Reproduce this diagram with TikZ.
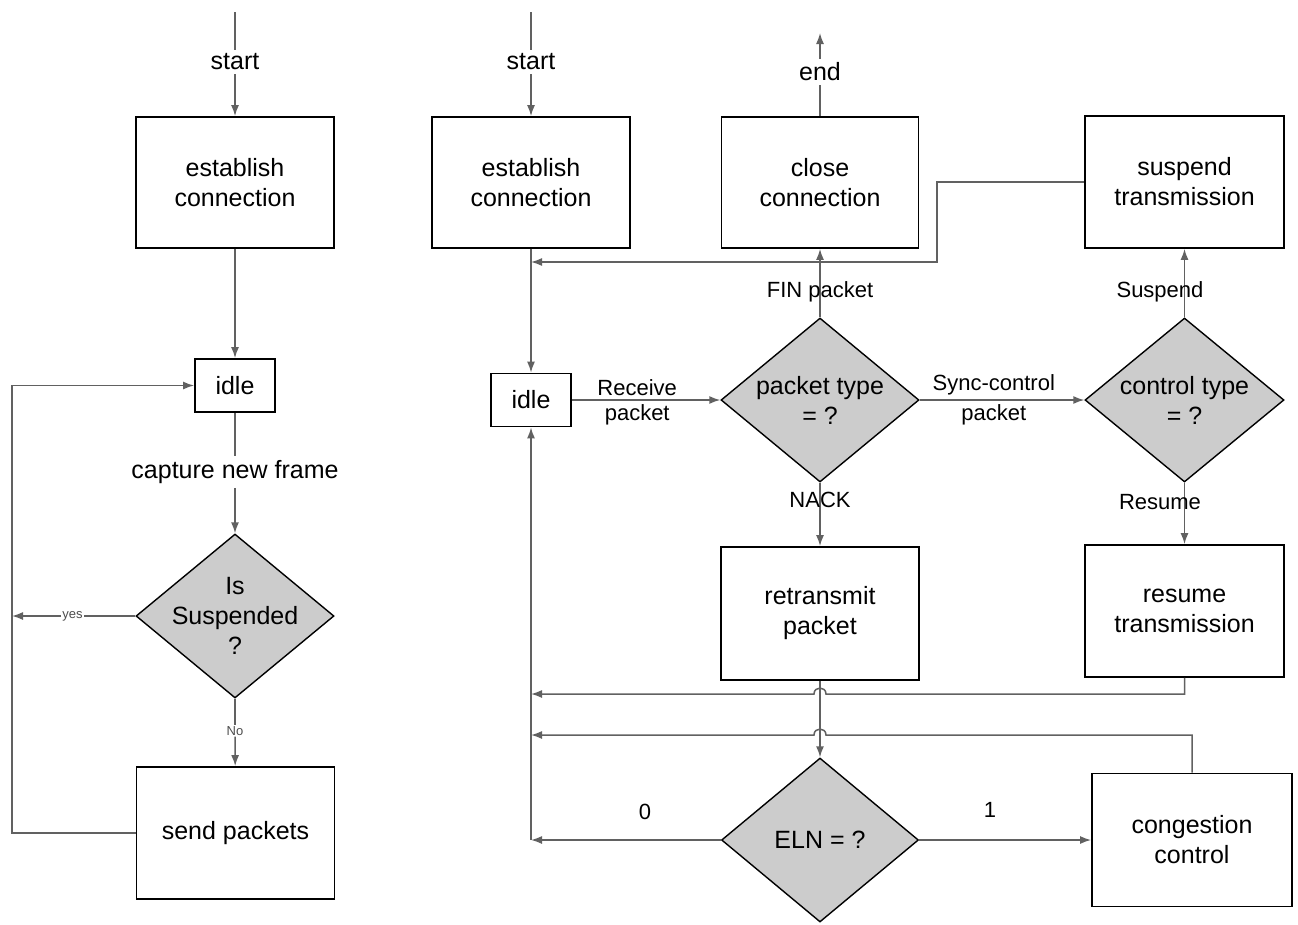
\documentclass[tikz,border=0pt]{standalone}
\usepackage{fontspec}
\setmainfont{Liberation Sans}
\usetikzlibrary{shapes.geometric,arrows.meta}
\begin{document}
\begin{tikzpicture}[x=1pt,y=-1pt,
  box/.style={draw=black,line width=1.8pt,fill=white,minimum width=198pt,minimum height=131pt,
    inner sep=0pt,align=center,font=\fontsize{25}{30}\selectfont},
  smallbox/.style={box,minimum width=80pt,minimum height=53pt},
  dec/.style={diamond,draw=black,line width=1.4pt,fill=black!20,minimum width=198pt,
    minimum height=164pt,inner sep=0pt},
  dtext/.style={align=center,font=\fontsize{25}{30}\selectfont,inner sep=0pt},
  term/.style={font=\fontsize{25}{30}\selectfont,inner sep=4pt},
  lbl/.style={align=center,font=\fontsize{22}{27}\selectfont,inner sep=2pt},
  edgelbl/.style={lbl,inner sep=4pt},
  tinylbl/.style={font=\fontsize{13}{15}\selectfont,inner sep=1pt,text=black!70},
  conn/.style={draw=black!62,line width=1.5pt},
  arr/.style={conn,-{Latex[length=11pt,width=8pt]}},
]
\path[use as bounding box] (0,0) rectangle (1298,924);

% ---------- sender ----------
\coordinate (ltop) at (235,12);
\coordinate (lloop) at (12,0);
\coordinate (yesend) at (12,616);
\node[term] (lstart) at (235,62) {start};
\node[box] (lest) at (235,182.5) {establish\\connection};
\node[smallbox] (lidle) at (235,385.5) {idle};
\node[term] (lcap) at (235,472) {capture new frame};
\node[dec] (lsus) at (235,616) {};
\node[dtext] at (lsus.center) {Is\\Suspended\\?};
\node[tinylbl] (lno) at (235,731) {No};
\node[box,minimum height=132pt] (lsend) at (235.5,833) {send packets};

\draw[conn] (ltop) -- (lstart);
\draw[arr] (lstart) -- (lest);
\draw[arr] (lest) -- (lidle);
\draw[conn] (lidle) -- (lcap);
\draw[arr] (lcap) -- (lsus);
\draw[conn] (lsus) -- (lno);
\draw[arr] (lno) -- (lsend);
\draw[arr] (lsus.west) -- node[tinylbl,fill=white,pos=0.51] {yes} (yesend);
\draw[arr] (lsend.west) -- (lsend.west -| lloop) -- (lidle.west -| lloop) -- (lidle.west);

% ---------- receiver ----------
\coordinate (rtop) at (531,12);
\coordinate (etop) at (820,33);
\coordinate (j1) at (531,262);
\coordinate (j2) at (531,694);
\coordinate (j3) at (531,735);
\coordinate (j4) at (531,840);

\node[term] (rstart) at (531,62) {start};
\node[box] (rest) at (531,182.5) {establish\\connection};
\node[box,minimum width=197pt] (close) at (820,182.5) {close\\connection};
\node[term] (endt) at (820,72) {end};
\node[box,minimum width=199pt,minimum height=132pt] (susp) at (1184.5,182) {suspend\\transmission};
\node[smallbox] (ridle) at (531,400) {idle};
\node[dec] (ptype) at (820,400) {};
\node[dtext] at (ptype.center) {packet type\\= ?};
\node[dec,minimum width=199pt] (ctype) at (1184.5,400) {};
\node[dtext] at (ctype.center) {control type\\= ?};
\node[box,minimum height=133pt] (retx) at (820,613.5) {retransmit\\packet};
\node[box,minimum width=199pt,minimum height=132pt] (resume) at (1184.5,611) {resume\\transmission};
\node[dec,minimum width=197pt] (eln) at (820,840) {};
\node[dtext] at (eln.center) {ELN = ?};
\node[box,minimum width=200pt,minimum height=133pt] (cong) at (1192,840) {congestion\\control};

\draw[conn] (rtop) -- (rstart);
\draw[arr] (rstart) -- (rest);
\draw[arr] (rest) -- (ridle);
\draw[conn] (close) -- (endt);
\draw[arr] (endt) -- (etop);

\draw[arr] (ridle) -- node[edgelbl,above,pos=0.44] {Receive} node[edgelbl,below,pos=0.44] {packet} (ptype);
\draw[arr] (ptype) -- (close);
\node[lbl] at (820,292) {FIN packet};
\draw[arr] (ptype) -- node[edgelbl,above,pos=0.45] {Sync-control} node[edgelbl,below,pos=0.45] {packet} (ctype);
\draw[arr] (ptype) -- (retx);
\node[lbl] at (820,500) {NACK};
\draw[arr] (ctype) -- (susp);
\node[lbl] at (1160,292) {Suspend};
\draw[arr] (ctype) -- (resume);
\node[lbl] at (1160,502) {Resume};

% return paths to the idle loop
\draw[arr] (susp.west) -| (937,262) -- (j1);
\draw[arr] (resume.south) |- (826,694) .. controls (826,686) and (814,686) .. (814,694) -- (j2);
\draw[arr] (cong.north) |- (826,735) .. controls (826,727) and (814,727) .. (814,735) -- (j3);
\draw[arr] (retx) -- (eln);
\draw[arr] (eln) -- (j4);
\node[lbl] at (645,812) {0};
\draw[arr] (j4) -- (ridle);
\draw[arr] (eln) -- (cong);
\node[lbl] at (990,810) {1};
\end{tikzpicture}
\end{document}
